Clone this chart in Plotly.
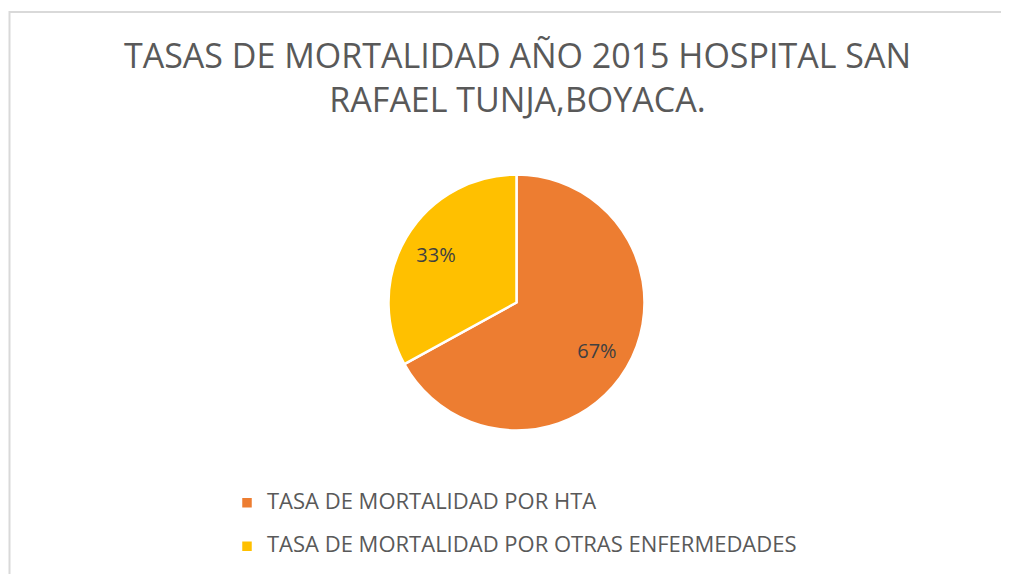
import plotly.graph_objects as go

# Data
categories = ["TASA DE MORTALIDAD POR HTA", "TASA DE MORTALIDAD POR OTRAS ENFERMEDADES"]
values = [67, 33]
colors = ["#ED7D31", "#FFC000"]
title_lines = ["TASAS DE MORTALIDAD AÑO 2015 HOSPITAL SAN", "RAFAEL TUNJA,BOYACA."]

# page body has an 8px margin -> figure starts at (8, 8)
W, H = 1001, 566
OFF = 8
cx, cy, r = 516.5 - OFF, 302.5 - OFF, 128.0

def px_x(x):
    return (x - OFF) / W

def px_y(y):
    return 1 - (y - OFF) / H

dom = dict(x=[(cx - r) / W, (cx + r) / W], y=[(H - cy - r) / H, (H - cy + r) / H])

legend_labels = [f"<span style='font-size:22px'>{c}</span><br> " for c in categories]

fig = go.Figure()

# main pie (slices, white separators, legend)
fig.add_trace(
    go.Pie(
        labels=legend_labels,
        values=values,
        sort=False,
        direction="clockwise",
        rotation=0,
        marker=dict(colors=colors, line=dict(color="white", width=2.5)),
        textinfo="none",
        hovertext=categories,
        hoverinfo="text+percent",
        domain=dom,
    )
)

# transparent ring used only to place percentage labels further out
fig.add_trace(
    go.Pie(
        labels=legend_labels,
        values=values,
        sort=False,
        direction="clockwise",
        rotation=0,
        hole=0.46,
        marker=dict(colors=["rgba(0,0,0,0)"] * len(values), line=dict(width=0)),
        texttemplate="%{percent:.0%}",
        textposition="inside",
        insidetextorientation="horizontal",
        textfont=dict(family="Open Sans", size=20, color="#404040"),
        hoverinfo="skip",
        showlegend=False,
        domain=dom,
    )
)

annotations = [
    dict(
        text="<br>".join(title_lines), x=px_x(517.5), y=px_y(77.5), xref="paper", yref="paper",
        xanchor="center", yanchor="middle", showarrow=False, align="center",
        font=dict(family="Open Sans", size=34, color="#595959"),
    ),
]

fig.update_layout(
    width=W,
    height=H,
    margin=dict(l=0, r=0, t=0, b=0, autoexpand=False),
    paper_bgcolor="white",
    plot_bgcolor="white",
    annotations=annotations,
    legend=dict(
        x=px_x(227),
        xanchor="left",
        y=px_y(486),
        yanchor="top",
        valign="top",
        font=dict(family="Open Sans", size=15.6, color="#595959"),
        bgcolor="rgba(0,0,0,0)",
    ),
    shapes=[
        dict(
            type="rect",
            xref="paper",
            yref="paper",
            x0=px_x(9.5),
            x1=1.05,
            y0=-0.05,
            y1=px_y(12),
            line=dict(color="#D9D9D9", width=2),
            layer="below",
        )
    ],
)

fig.write_html("out.html")
